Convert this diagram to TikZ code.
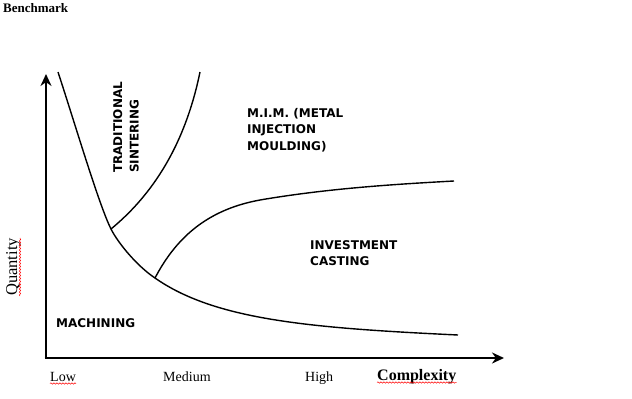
\documentclass[tikz,border=0pt]{standalone}
\usepackage{fontspec}
\setmainfont{Liberation Serif}
\newfontfamily\regionfont{DejaVu Sans}
\usetikzlibrary{arrows.meta,decorations.pathmorphing}
\tikzset{
	axisline/.style={line width=2.6pt,-{Stealth[length=12pt,width=11pt]}},
	curve/.style={line width=1.4pt},
	region/.style={inner sep=0pt,align=left,font=\regionfont\bfseries\fontsize{12}{16.6}\selectfont},
	scalelbl/.style={inner sep=0pt,font=\fontsize{14}{16}\selectfont},
	spell/.style={red,line width=0.5pt,decorate,decoration={snake,segment length=3pt,amplitude=0.7pt}}
}
\begin{document}
\begin{tikzpicture}[x=1pt,y=-1pt]
		\useasboundingbox[fill=white] (0,0) rectangle (632,399);

		\coordinate (orig) at (46,358);
		\coordinate (ytop) at (46,74);
		\coordinate (xend) at (504,358);

		\coordinate (mtop) at (58,72);
		\coordinate (jts) at (111,229);
		\coordinate (jic) at (155,278);
		\coordinate (mend) at (458,335);
		\coordinate (tstop) at (200,72);
		\coordinate (ickink) at (260,200);
		\coordinate (icend) at (454,181);

		\draw[axisline] (orig) -- (ytop);
		\draw[axisline] ([xshift=-1.3pt]orig) -- (xend);

		\draw[curve] (mtop) .. controls (76,127) and (99,205) .. (jts)
			.. controls (118,243) and (137,266) .. (jic)
			.. controls (215,320) and (310,328) .. (mend);
		\draw[curve] (jts) .. controls (140,205) and (182,160) .. (tstop);
		\draw[curve] (jic) .. controls (175,240) and (205,210) .. (ickink)
			.. controls (330,188) and (400,184) .. (icend);

		\node[anchor=base west,inner sep=0pt,font=\bfseries\fontsize{13}{15}\selectfont] (title) at (3,12) {Benchmark};
		\node[anchor=base west,inner sep=0pt,rotate=90,font=\fontsize{16.5}{18}\selectfont] (qty) at (17,296) {Quantity};
		\node[scalelbl,anchor=base west] (low) at (50,381) {Low};
		\node[scalelbl,anchor=base west] (med) at (163,381) {Medium};
		\node[scalelbl,anchor=base west] (high) at (305,381) {High};
		\node[anchor=base west,inner sep=0pt,font=\bfseries\fontsize{16}{18}\selectfont] (cplx) at (377,380) {Complexity};

		\draw[spell] ([xshift=3pt]qty.base west) -- ([xshift=3pt]qty.base east);
		\draw[spell] ([yshift=-2.5pt]low.base west) -- ([yshift=-2.5pt]low.base east);
		\draw[spell] ([yshift=-2.5pt]cplx.base west) -- ([yshift=-2.5pt]cplx.base east);

		\node[region,anchor=north west,rotate=90] (sint) at (113,173) {TRADITIONAL\\SINTERING};
		\node[region,anchor=north west] (mim) at (247,108) {M.I.M. (METAL\\INJECTION\\MOULDING)};
		\node[region,anchor=north west] (inv) at (310,240) {INVESTMENT\\CASTING};
		\node[region,anchor=north west] (mach) at (56,318) {MACHINING};
	\end{tikzpicture}
\end{document}
